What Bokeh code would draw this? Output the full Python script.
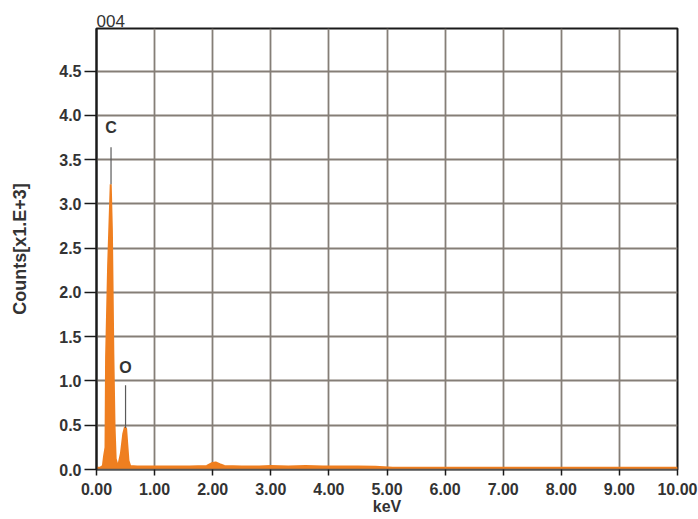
from bokeh.plotting import figure
from bokeh.models import Range1d, FixedTicker, NumeralTickFormatter
from bokeh.embed import file_html
from bokeh.resources import INLINE
from bokeh.core.properties import value

# ---- data ----
energy_kev = [0.00, 0.06, 0.11, 0.13, 0.155, 0.165, 0.20, 0.245, 0.265, 0.29, 0.31,
              0.33, 0.36, 0.38, 0.42, 0.46, 0.49, 0.51, 0.53, 0.55, 0.58, 0.70,
              1.00, 1.30, 1.60, 1.90, 1.98, 2.05, 2.12, 2.20, 2.50, 2.80, 3.00,
              3.30, 3.60, 3.90, 4.20, 4.50, 4.80, 5.10, 5.50, 6.00, 6.50, 7.00,
              7.50, 8.00, 8.50, 9.00, 9.50, 10.00]
counts_k = [0.02, 0.02, 0.04, 0.15, 0.25, 1.27, 2.30, 3.22, 2.70, 1.30, 0.50,
            0.12, 0.05, 0.06, 0.18, 0.40, 0.48, 0.46, 0.28, 0.10, 0.04, 0.035,
            0.035, 0.035, 0.035, 0.04, 0.07, 0.08, 0.06, 0.04, 0.035, 0.035, 0.04,
            0.035, 0.04, 0.035, 0.035, 0.035, 0.03, 0.02, 0.02, 0.02, 0.02, 0.02,
            0.02, 0.02, 0.02, 0.02, 0.02, 0.02]

peak_names = ["C", "O"]
peak_kev = [0.25, 0.50]
peak_top = [3.22, 0.47]
peak_line_top = [3.64, 0.95]
peak_label_y = [3.77, 1.06]

x_ticks = [0, 1, 2, 3, 4, 5, 6, 7, 8, 9, 10]
y_ticks = [0.0, 0.5, 1.0, 1.5, 2.0, 2.5, 3.0, 3.5, 4.0, 4.5]

ORANGE = "#EF7F20"
TEXT = "#333333"
GRID = "#857e77"
FONT = "Liberation Sans"

p = figure(width=698, height=519, output_backend="svg", toolbar_location=None,
           x_range=Range1d(0, 10), y_range=Range1d(0, 4.98),
           min_border_left=96, min_border_right=21, min_border_top=28,
           min_border_bottom=50)
p.background_fill_color = "white"
p.border_fill_color = "white"
p.outline_line_color = "#1a1a1a"
p.outline_line_width = 2

p.title.text = "004"
p.title.align = "left"
p.title.standoff = 3
p.title.text_font = FONT
p.title.text_font_size = "17px"
p.title.text_font_style = "normal"
p.title.text_color = TEXT

# grid
p.xgrid.ticker = FixedTicker(ticks=x_ticks)
p.ygrid.ticker = FixedTicker(ticks=y_ticks)
p.grid.grid_line_color = GRID
p.grid.grid_line_width = 1.8

# axes
p.xaxis.ticker = FixedTicker(ticks=x_ticks)
p.yaxis.ticker = FixedTicker(ticks=y_ticks)
p.xaxis.formatter = NumeralTickFormatter(format="0.00")
p.yaxis.formatter = NumeralTickFormatter(format="0.0")
for ax in (p.xaxis, p.yaxis):
    ax.major_label_text_font = FONT
    ax.major_label_text_font_size = "16px"
    ax.major_label_text_font_style = "bold"
    ax.major_label_text_color = TEXT
    ax.minor_tick_line_color = None
    ax.major_tick_in = 0
    ax.major_tick_line_color = "#1a1a1a"
    ax.major_tick_line_width = 1.5
p.yaxis.axis_line_color = "#1a1a1a"
p.yaxis.axis_line_width = 2
p.yaxis.major_tick_out = 12
p.yaxis.major_label_standoff = 3
p.yaxis.axis_label = "Counts[x1.E+3]"
p.yaxis.axis_label_text_font = FONT
p.yaxis.axis_label_text_font_size = "18px"
p.yaxis.axis_label_text_font_style = "bold"
p.yaxis.axis_label_text_color = TEXT
p.yaxis.axis_label_standoff = 26
p.xaxis.axis_line_color = "#555555"
p.xaxis.axis_line_width = 1.5
p.xaxis.major_tick_out = 6
p.xaxis.major_label_standoff = 7
p.xaxis.axis_label = "keV"
p.xaxis.axis_label_text_font = FONT
p.xaxis.axis_label_text_font_size = "16px"
p.xaxis.axis_label_text_font_style = "bold"
p.xaxis.axis_label_text_color = TEXT
p.xaxis.axis_label_standoff = 0

# spectrum
p.varea(x=energy_kev, y1=0, y2=counts_k, fill_color=ORANGE)
p.line(energy_kev, counts_k, line_color=ORANGE, line_width=2)

# peak markers
p.segment(x0=peak_kev, y0=peak_line_top, x1=peak_kev, y1=peak_top,
          line_color="#5a5a5a", line_width=1.2)
p.text(x=peak_kev, y=peak_label_y, text=peak_names, text_align="center",
       text_baseline="bottom", text_font=value(FONT), text_font_size="16px",
       text_font_style="bold", text_color=TEXT)

open("out.html", "w").write(file_html(p, INLINE))
